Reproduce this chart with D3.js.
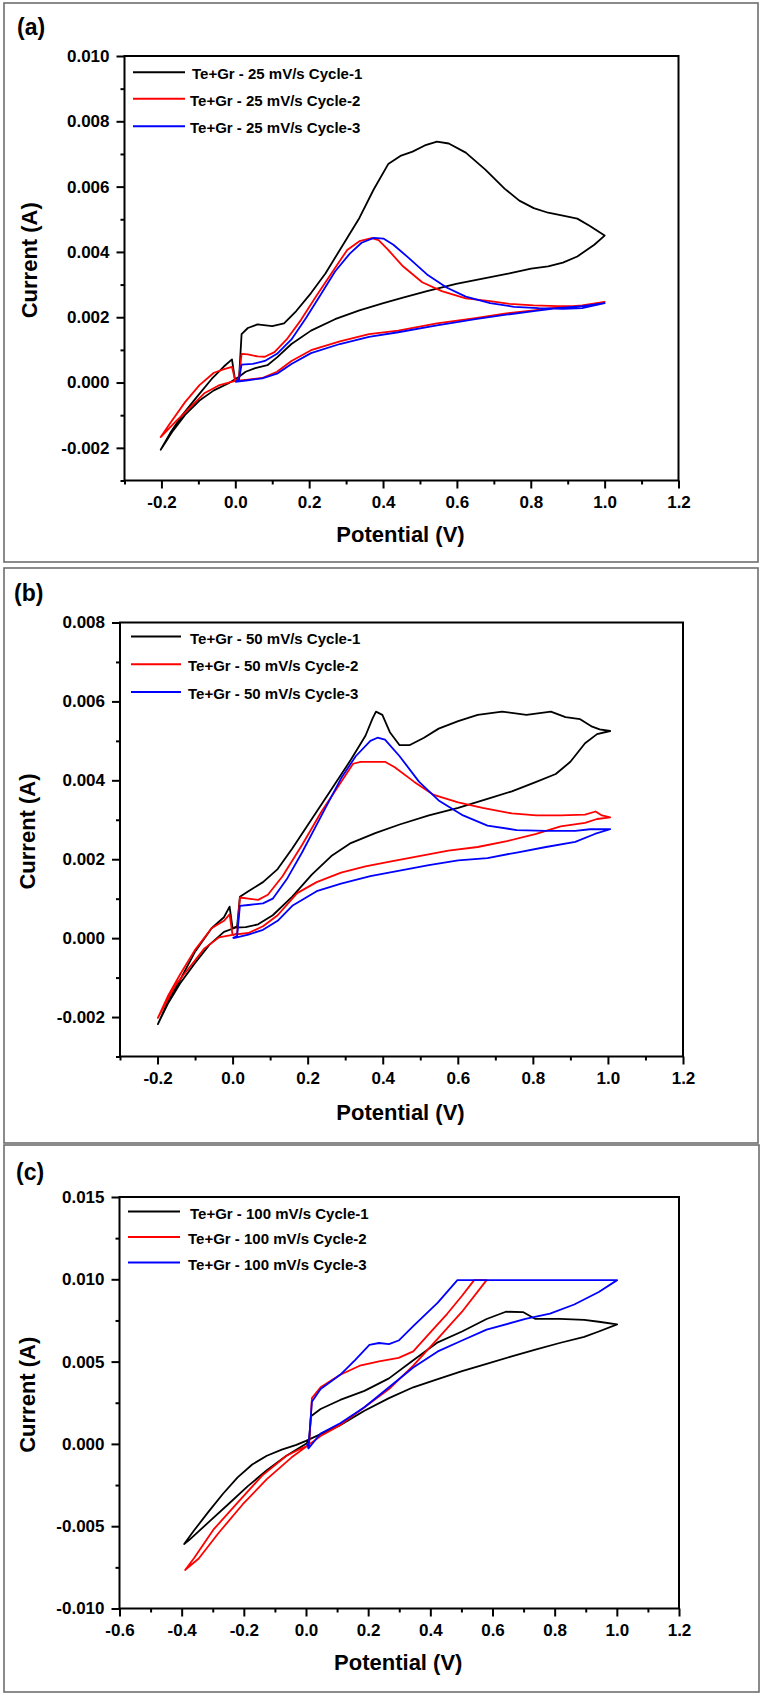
<!DOCTYPE html>
<html>
<head>
<meta charset="utf-8">
<script src="https://cdn.jsdelivr.net/npm/d3@7"></script>
<style>
html,body{margin:0;padding:0;background:#fff;}
svg{display:block;}
text{font-family:"Liberation Sans",Arial,sans-serif;font-weight:bold;fill:#000;}
</style>
</head>
<body>
<svg id="chart" width="762" height="1695"></svg>
<script>
// ---------------- DATA ----------------
// Panel (a): 25 mV/s  [potential V, current A]
const a_cycle1 = [[0.0,0.00002],[0.010,0.00011],[0.017,0.00148],[0.034,0.00167],[0.060,0.00178],[0.100,0.00173],[0.132,0.00181],[0.165,0.00219],[0.205,0.00274],[0.244,0.00334],[0.283,0.00406],[0.336,0.00504],[0.375,0.00592],[0.414,0.00669],[0.447,0.00694],[0.480,0.00707],[0.513,0.00726],[0.546,0.00738],[0.578,0.00732],[0.624,0.00704],[0.677,0.00652],[0.729,0.00594],[0.769,0.00557],[0.808,0.00534],[0.847,0.00520],[0.887,0.00511],[0.926,0.00502],[0.959,0.00480],[1.0,0.00450],[0.972,0.00422],[0.926,0.00386],[0.887,0.00367],[0.847,0.00356],[0.801,0.00349],[0.742,0.00334],[0.677,0.00320],[0.598,0.00302],[0.519,0.00280],[0.454,0.00260],[0.401,0.00243],[0.336,0.00221],[0.270,0.00194],[0.205,0.00159],[0.152,0.00118],[0.113,0.00077],[0.087,0.00053],[0.054,0.00044],[0.028,0.00033],[0.008,0.00016],[-0.018,-0.00002],[-0.058,-0.00024],[-0.097,-0.00055],[-0.136,-0.00099],[-0.169,-0.00148],[-0.202,-0.00206],[-0.176,-0.00154],[-0.143,-0.00099],[-0.104,-0.00044],[-0.064,0.00011],[-0.031,0.00049],[-0.009,0.00071],[0.0,0.00002]];
const a_cycle2 = [[0.0,0.00005],[0.010,0.00012],[0.017,0.00088],[0.034,0.00086],[0.060,0.00080],[0.080,0.00079],[0.106,0.00093],[0.139,0.00132],[0.178,0.00192],[0.218,0.00263],[0.270,0.00351],[0.303,0.00406],[0.336,0.00433],[0.369,0.00442],[0.388,0.00436],[0.414,0.00406],[0.454,0.00356],[0.506,0.00307],[0.559,0.00280],[0.624,0.00258],[0.690,0.00249],[0.742,0.00241],[0.808,0.00236],[0.873,0.00234],[0.939,0.00234],[1.0,0.00247],[0.939,0.00236],[0.873,0.00230],[0.808,0.00221],[0.729,0.00211],[0.650,0.00197],[0.546,0.00181],[0.441,0.00159],[0.362,0.00148],[0.283,0.00126],[0.205,0.00099],[0.152,0.00066],[0.113,0.00033],[0.073,0.00014],[0.034,0.00009],[0.0,0.00005],[-0.045,-0.00009],[-0.084,-0.00033],[-0.123,-0.00077],[-0.163,-0.00121],[-0.202,-0.00167],[-0.176,-0.00124],[-0.136,-0.00060],[-0.097,-0.00008],[-0.058,0.00030],[-0.030,0.00041],[-0.009,0.00048],[0.0,0.00005]];
const a_cycle3 = [[0.0,0.00002],[0.010,0.00010],[0.017,0.00055],[0.047,0.00057],[0.080,0.00066],[0.113,0.00088],[0.152,0.00132],[0.191,0.00197],[0.231,0.00269],[0.270,0.00340],[0.310,0.00395],[0.342,0.00428],[0.375,0.00443],[0.401,0.00441],[0.428,0.00422],[0.467,0.00384],[0.519,0.00331],[0.572,0.00291],[0.624,0.00263],[0.690,0.00243],[0.755,0.00232],[0.821,0.00228],[0.887,0.00226],[0.939,0.00228],[1.0,0.00243],[0.939,0.00234],[0.873,0.00228],[0.808,0.00219],[0.729,0.00207],[0.650,0.00194],[0.546,0.00175],[0.441,0.00154],[0.362,0.00140],[0.283,0.00118],[0.205,0.00090],[0.152,0.00057],[0.113,0.00027],[0.073,0.00013],[0.034,0.00007],[0.0,0.00002]];

// Panel (b): 50 mV/s
const b_cycle1 = [[0.0,0.00025],[0.012,0.00030],[0.0195,0.00105],[0.042,0.00119],[0.081,0.00142],[0.120,0.00175],[0.159,0.00227],[0.211,0.00302],[0.263,0.00377],[0.315,0.00452],[0.354,0.00513],[0.373,0.00557],[0.382,0.00574],[0.399,0.00566],[0.419,0.00522],[0.445,0.00489],[0.471,0.00489],[0.510,0.00508],[0.549,0.00531],[0.601,0.00550],[0.653,0.00566],[0.718,0.00574],[0.783,0.00566],[0.848,0.00574],[0.887,0.00560],[0.926,0.00555],[0.958,0.00536],[0.978,0.00529],[1.006,0.00525],[0.971,0.00517],[0.939,0.00494],[0.900,0.00447],[0.861,0.00416],[0.809,0.00396],[0.744,0.00372],[0.679,0.00353],[0.601,0.00330],[0.523,0.00311],[0.445,0.00288],[0.380,0.00266],[0.315,0.00241],[0.263,0.00208],[0.211,0.00161],[0.159,0.00105],[0.107,0.00058],[0.068,0.00035],[0.035,0.00028],[0.009,0.00027],[-0.023,0.00016],[-0.062,-0.00017],[-0.101,-0.00064],[-0.140,-0.00115],[-0.173,-0.00167],[-0.199,-0.00218],[-0.173,-0.00162],[-0.140,-0.00106],[-0.101,-0.00036],[-0.056,0.00025],[-0.023,0.00053],[-0.008,0.00080],[0.0,0.00025]];
const b_cycle2 = [[0.0,0.00007],[0.012,0.00012],[0.0195,0.00103],[0.042,0.00100],[0.068,0.00097],[0.094,0.00110],[0.133,0.00157],[0.185,0.00236],[0.237,0.00321],[0.289,0.00396],[0.321,0.00442],[0.341,0.00447],[0.406,0.00447],[0.432,0.00433],[0.484,0.00396],[0.536,0.00363],[0.601,0.00344],[0.666,0.00330],[0.744,0.00316],[0.809,0.00311],[0.874,0.00311],[0.939,0.00313],[0.967,0.00321],[0.984,0.00311],[1.006,0.00306],[0.971,0.00302],[0.939,0.00292],[0.874,0.00283],[0.809,0.00264],[0.731,0.00246],[0.653,0.00231],[0.575,0.00222],[0.497,0.00208],[0.419,0.00194],[0.354,0.00182],[0.289,0.00166],[0.224,0.00142],[0.172,0.00114],[0.120,0.00058],[0.081,0.00030],[0.042,0.00013],[0.003,0.00009],[-0.036,0.00002],[-0.075,-0.00026],[-0.114,-0.00073],[-0.153,-0.00120],[-0.199,-0.00202],[-0.173,-0.00148],[-0.140,-0.00092],[-0.101,-0.00031],[-0.056,0.00025],[-0.023,0.00044],[-0.008,0.00060],[0.0,0.00007]];
const b_cycle3 = [[0.0,0.0],[0.012,0.00005],[0.0195,0.00082],[0.042,0.00084],[0.081,0.00088],[0.107,0.00100],[0.146,0.00152],[0.185,0.00217],[0.237,0.00311],[0.289,0.00405],[0.328,0.00461],[0.367,0.00500],[0.386,0.00508],[0.406,0.00503],[0.445,0.00461],[0.497,0.00396],[0.549,0.00349],[0.614,0.00311],[0.679,0.00285],[0.757,0.00274],[0.835,0.00272],[0.913,0.00272],[0.952,0.00276],[1.006,0.00276],[0.965,0.00264],[0.913,0.00244],[0.835,0.00231],[0.757,0.00217],[0.679,0.00203],[0.601,0.00197],[0.523,0.00185],[0.445,0.00171],[0.367,0.00157],[0.289,0.00138],[0.224,0.00119],[0.159,0.00082],[0.120,0.00044],[0.081,0.00021],[0.042,0.00009],[0.003,0.0]];

// Panel (c): 100 mV/s
const c_cycle1 = [[0.003,0.00004],[0.010,0.00030],[0.016,0.00168],[0.047,0.00212],[0.110,0.00267],[0.188,0.00322],[0.267,0.00398],[0.345,0.00508],[0.424,0.00617],[0.502,0.00683],[0.581,0.00759],[0.643,0.00803],[0.698,0.00801],[0.738,0.00759],[0.816,0.00759],[0.895,0.00753],[0.942,0.00742],[1.001,0.00726],[0.942,0.00683],[0.895,0.00650],[0.816,0.00613],[0.738,0.00573],[0.659,0.00530],[0.581,0.00486],[0.502,0.00442],[0.424,0.00394],[0.345,0.00344],[0.267,0.00278],[0.188,0.00201],[0.110,0.00114],[0.047,0.00059],[0.0,0.00018],[-0.031,-0.00006],[-0.078,-0.00035],[-0.126,-0.00072],[-0.173,-0.00125],[-0.220,-0.00203],[-0.267,-0.00303],[-0.314,-0.00413],[-0.361,-0.00528],[-0.392,-0.00608],[-0.377,-0.00586],[-0.314,-0.00477],[-0.251,-0.00368],[-0.188,-0.00258],[-0.126,-0.00160],[-0.063,-0.00072],[0.003,0.00004]];
const c_cycle2 = [[0.003,-0.00013],[0.010,-0.00010],[0.019,0.00278],[0.047,0.00344],[0.110,0.00420],[0.173,0.00475],[0.235,0.00501],[0.298,0.00523],[0.345,0.00562],[0.392,0.00661],[0.455,0.00792],[0.502,0.00900],[0.541,0.00995],[0.581,0.00995],[0.502,0.00803],[0.424,0.00639],[0.345,0.00475],[0.267,0.00333],[0.188,0.00223],[0.110,0.00114],[0.047,0.00048],[0.0,-0.00018],[-0.047,-0.00083],[-0.126,-0.00214],[-0.204,-0.00368],[-0.282,-0.00543],[-0.345,-0.00696],[-0.389,-0.00766],[-0.361,-0.00696],[-0.298,-0.00521],[-0.220,-0.00357],[-0.141,-0.00193],[-0.063,-0.00072],[-0.016,-0.00028],[0.003,-0.00013]];
const c_cycle3 = [[0.003,0.0],[0.008,-0.00028],[0.019,0.00256],[0.047,0.00333],[0.110,0.00420],[0.157,0.00508],[0.204,0.00602],[0.235,0.00613],[0.267,0.00606],[0.298,0.00628],[0.345,0.00716],[0.424,0.00858],[0.487,0.00995],[1.001,0.00995],[0.942,0.00923],[0.863,0.00847],[0.785,0.00792],[0.706,0.00759],[0.581,0.00694],[0.502,0.00628],[0.424,0.00562],[0.345,0.00464],[0.267,0.00344],[0.188,0.00223],[0.110,0.00125],[0.047,0.00063],[0.008,-0.00028]];

// Legend labels
const a_labels = ["Te+Gr - 25 mV/s Cycle-1","Te+Gr - 25 mV/s Cycle-2","Te+Gr - 25 mV/s Cycle-3"];
const b_labels = ["Te+Gr - 50 mV/s Cycle-1","Te+Gr - 50 mV/s Cycle-2","Te+Gr - 50 mV/s Cycle-3"];
const c_labels = ["Te+Gr - 100 mV/s Cycle-1","Te+Gr - 100 mV/s Cycle-2","Te+Gr - 100 mV/s Cycle-3"];
const panelTags = ["(a)","(b)","(c)"];
const seriesColors = ["#000000","#ff0000","#0000ff"];
const xTitle = "Potential (V)";
const yTitle = "Current (A)";

// Tick values
const ab_xTicks = [-0.2,0.0,0.2,0.4,0.6,0.8,1.0,1.2];
const ab_xMinor = [-0.3,-0.1,0.1,0.3,0.5,0.7,0.9,1.1];
const a_yTicks = [-0.002,0.0,0.002,0.004,0.006,0.008,0.010];
const a_yMinor = [-0.003,-0.001,0.001,0.003,0.005,0.007,0.009];
const b_yTicks = [-0.002,0.0,0.002,0.004,0.006,0.008];
const b_yMinor = [-0.003,-0.001,0.001,0.003,0.005,0.007];
const c_xTicks = [-0.6,-0.4,-0.2,0.0,0.2,0.4,0.6,0.8,1.0,1.2];
const c_xMinor = [-0.5,-0.3,-0.1,0.1,0.3,0.5,0.7,0.9,1.1];
const c_yTicks = [-0.010,-0.005,0.0,0.005,0.010,0.015];
const c_yMinor = [-0.0075,-0.0025,0.0025,0.0075,0.0125];

// ---------------- LAYOUT ----------------
const panels = [
  {frame:[4,3,754,559], tag:[17,35], xDom:[-0.3,1.2], yDom:[-0.003,0.010],
   px:[124.5,678.5], py:[480.5,56], xT:ab_xTicks, xM:ab_xMinor, yT:a_yTicks, yM:a_yMinor,
   series:[a_cycle1,a_cycle2,a_cycle3], labels:a_labels,
   leg:{x1:133,x2:185,tx:190,ys:[72.3,98.7,126.3]}, xTitleY:542, yTitleX:37},
  {frame:[4,568,754,575], tag:[14,601], xDom:[-0.3,1.2], yDom:[-0.003,0.008],
   px:[120,683], py:[1056.5,622.5], xT:ab_xTicks, xM:ab_xMinor, yT:b_yTicks, yM:b_yMinor,
   series:[b_cycle1,b_cycle2,b_cycle3], labels:b_labels,
   leg:{x1:131,x2:181,tx:188,ys:[636.6,664.3,692]}, xTitleY:1120, yTitleX:35},
  {frame:[4,1145,755,547], tag:[16,1180], xDom:[-0.6,1.2], yDom:[-0.010,0.015],
   px:[119.5,679], py:[1608.5,1197], xT:c_xTicks, xM:c_xMinor, yT:c_yTicks, yM:c_yMinor,
   series:[c_cycle1,c_cycle2,c_cycle3], labels:c_labels,
   leg:{x1:128,x2:180,tx:188,ys:[1211.5,1237,1262.5]}, xTitleY:1670, yTitleX:35}
];

const svg = d3.select("#chart");

panels.forEach((p, i) => {
  const g = svg.append("g");
  g.append("rect").attr("x",p.frame[0]).attr("y",p.frame[1])
    .attr("width",p.frame[2]).attr("height",p.frame[3])
    .attr("fill","none").attr("stroke","#6e6e6e").attr("stroke-width",1.6);
  g.append("text").attr("x",p.tag[0]).attr("y",p.tag[1])
    .style("font-size","23px").text(panelTags[i]);

  const x = d3.scaleLinear().domain(p.xDom).range(p.px);
  const y = d3.scaleLinear().domain(p.yDom).range(p.py);

  const xAx = g.append("g").attr("transform",`translate(0,${p.py[0]})`)
    .call(d3.axisBottom(x).tickValues(p.xT).tickSize(8).tickPadding(7)
      .tickFormat(d => d.toFixed(1)));
  const xAxm = g.append("g").attr("transform",`translate(0,${p.py[0]})`)
    .call(d3.axisBottom(x).tickValues(p.xM).tickSize(4).tickFormat(""));
  const yAx = g.append("g").attr("transform",`translate(${p.px[0]},0)`)
    .call(d3.axisLeft(y).tickValues(p.yT).tickSize(8).tickPadding(7)
      .tickFormat(d => d.toFixed(3)));
  const yAxm = g.append("g").attr("transform",`translate(${p.px[0]},0)`)
    .call(d3.axisLeft(y).tickValues(p.yM).tickSize(4).tickFormat(""));
  [xAx,xAxm,yAx,yAxm].forEach(a => {
    a.select(".domain").remove();
    a.selectAll("line").attr("stroke","#000").attr("stroke-width",2);
    a.selectAll("text").style("font-size","17px").style("font-family","'Liberation Sans',Arial,sans-serif").style("font-weight","bold").attr("fill","#000");
  });

  g.append("rect").attr("x",p.px[0]).attr("y",p.py[1])
    .attr("width",p.px[1]-p.px[0]).attr("height",p.py[0]-p.py[1])
    .attr("fill","none").attr("stroke","#000").attr("stroke-width",2);

  const line = d3.line().x(d => x(d[0])).y(d => y(d[1]));
  p.series.forEach((s, k) => {
    g.append("path").datum(s).attr("d",line)
      .attr("fill","none").attr("stroke",seriesColors[k])
      .attr("stroke-width",1.8).attr("stroke-linejoin","round");
  });

  p.labels.forEach((lab, k) => {
    const ly = p.leg.ys[k];
    g.append("line").attr("x1",p.leg.x1).attr("x2",p.leg.x2).attr("y1",ly).attr("y2",ly)
      .attr("stroke",seriesColors[k]).attr("stroke-width",2);
    g.append("text").attr("x",p.leg.tx + (k===0?2:0)).attr("y",ly+7)
      .style("font-size","15px").text(lab);
  });

  g.append("text").attr("x",(p.px[0]+p.px[1])/2 - 1).attr("y",p.xTitleY)
    .attr("text-anchor","middle").style("font-size","22px").text(xTitle);
  const ymid = (p.py[0]+p.py[1])/2 - 8;
  g.append("text").attr("transform",`translate(${p.yTitleX},${ymid}) rotate(-90)`)
    .attr("text-anchor","middle").style("font-size","22px").text(yTitle);
});
</script>
</body>
</html>
